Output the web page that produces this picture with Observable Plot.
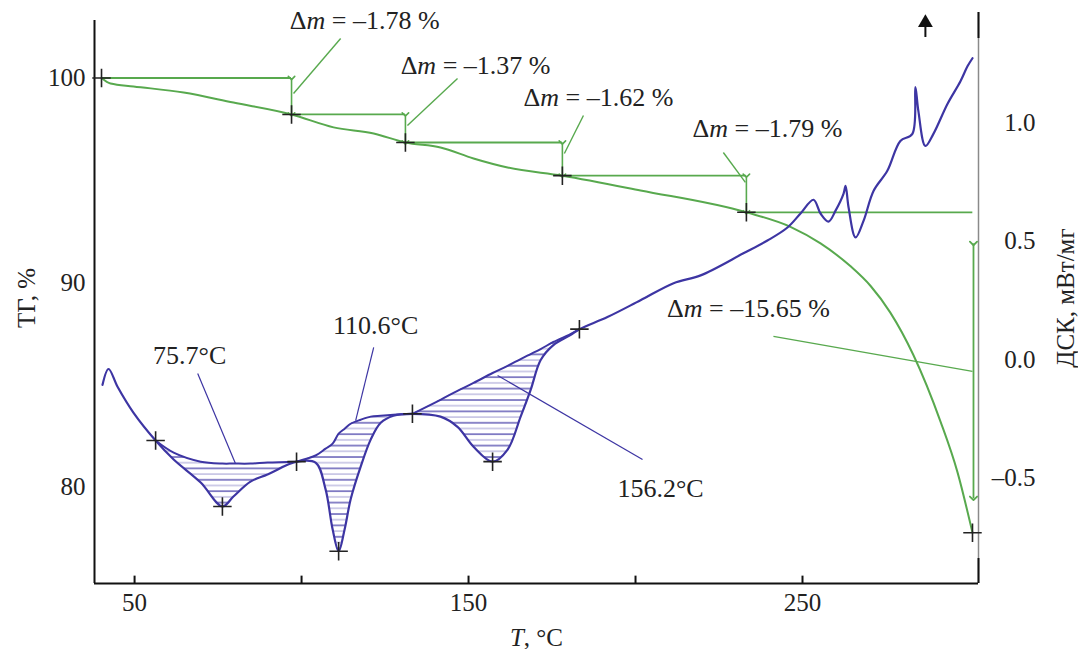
<!DOCTYPE html>
<html><head><meta charset="utf-8">
<script src="https://cdn.jsdelivr.net/npm/d3@7"></script>
<script src="https://cdn.jsdelivr.net/npm/@observablehq/plot@0.6"></script>
<style>
body{margin:0;background:#fff}
svg, svg text{font-family:"Liberation Serif","Times New Roman",serif !important}
</style>
</head><body><div id="chart"></div>
<script>
// ---- TG curve (mass, %) ----
const tgTemp = [40.1,42.8,49.7,64.7,79.6,97.0,109.6,121.6,131.1,141.6,151.5,161.7,178.1,201.5,233.2,246.4,255.4,264.4,270.4,276.3,283.2,291.3,296.4,300.9];
const tgMass = [100.0,99.73,99.59,99.29,98.80,98.22,97.59,97.29,96.85,96.61,96.07,95.63,95.23,94.51,93.44,92.73,91.92,90.80,89.84,88.54,86.47,83.23,80.75,77.79];

// ---- DSC curve (mW/mg) ----
const dscTemp = [40.4,42.2,44.9,49.7,56.3,61.7,69.8,76.3,79.6,84.7,89.8,98.5,104.2,107.2,109.3,111.1,112.9,114.7,117.7,120.7,123.7,127.5,133.2,141.6,146.7,151.5,157.2,161.7,165.6,168.6,171.6,175.4,180.5,183.2,191.6,201.5,211.4,219.5,232.3,239.5,245.5,249.4,253.3,255.4,257.8,259.9,262.3,262.9,263.8,265.9,268.3,271.3,275.4,279.3,282.9,283.8,284.7,286.8,289.2,293.4,297.3,299.4,300.9];
const dscVal = [-0.105,-0.038,-0.113,-0.223,-0.340,-0.420,-0.517,-0.618,-0.576,-0.513,-0.483,-0.429,-0.433,-0.546,-0.714,-0.807,-0.714,-0.588,-0.450,-0.336,-0.265,-0.235,-0.227,-0.239,-0.282,-0.366,-0.429,-0.378,-0.239,-0.126,0.000,0.063,0.105,0.130,0.181,0.252,0.324,0.357,0.450,0.504,0.559,0.618,0.676,0.618,0.584,0.630,0.702,0.735,0.643,0.517,0.588,0.714,0.798,0.924,0.954,1.151,1.050,0.903,0.954,1.080,1.176,1.239,1.273];

// ---- DSC peak baselines ----
const peak1Temp = [56.3,61.7,69.8,76.3,79.6,84.7,89.8,98.5];
const peak1Base = [-0.340,-0.391,-0.429,-0.437,-0.437,-0.437,-0.433,-0.429];
const peak2Temp = [98.5,104.2,107.2,109.3,111.1,112.9,114.7,117.7,120.7,123.7,127.5,133.2];
const peak2Base = [-0.429,-0.403,-0.374,-0.353,-0.311,-0.290,-0.269,-0.252,-0.239,-0.235,-0.231,-0.227];
const peak3Temp = [133.2,141.6,146.7,151.5,157.2,161.7,165.6,168.6,171.6,175.4,180.5,183.2];
const peak3Base = [-0.227,-0.168,-0.130,-0.097,-0.055,-0.025,0.004,0.025,0.046,0.076,0.109,0.130];

// ---- marked points ----
const tgMarkTemp = [40.1,97.0,131.1,178.1,233.2,300.9];
const tgMarkMass = [100.0,98.22,96.85,95.23,93.44,77.79];
const dscMarkTemp = [56.3,76.3,98.5,111.1,133.2,157.2,183.2];

// ---- mass-loss steps ----
const stepStart = [40.1,97.0,131.1,178.1,233.2];
const stepEnd   = [97.0,131.1,178.1,233.2,301.0];
const stepMass  = [100.0,98.22,96.85,95.23,93.44];
const stepArrowMass = [98.22,96.85,95.23,93.44];
const bigArrow = {t: 301.2, m1: 91.92, m2: 79.47};

// ---- labels ----
const dmText = ["Δm = –1.78 %","Δm = –1.37 %","Δm = –1.62 %","Δm = –1.79 %","Δm = –15.65 %"];
const dmTemp = [118.9,152.1,188.9,239.5,233.8];
const dmMass = [102.81,100.61,99.05,97.53,88.74];
const dmLeadT1 = [111.7,146.7,184.4,226.3,241.3];
const dmLeadM1 = [101.93,99.98,98.17,96.36,87.38];
const dmLeadT2 = [97.6,131.7,178.7,232.9,300.9];
const dmLeadM2 = [99.24,97.68,96.31,94.90,85.67];

const pkText = ["75.7°C","110.6°C","156.2°C"];
const pkTemp = [66.5,122.2,207.5];
const pkMass = [86.45,87.91,79.95];
const pkLeadT1 = [68.9,121.6,158.7];
const pkLeadM1 = [85.57,86.84,85.47];
const pkLeadT2 = [80.2,116.2,202.1];
const pkLeadM2 = [81.17,83.27,81.37];

// ---- axes ----
const xTicks = [50,100,150,200,250];
const xLabels = [50,150,250];
const tgTicks = [80,90,100];
const dscTicks = [-0.5,0.0,0.5,1.0];

// ---- scales / layout ----
const xDom = [38.0,302.7];
const tgDom = [75.31,103.2];
const dscDom = [-0.943,1.466];
const toY = d3.scaleLinear(dscDom, tgDom);

const green = "#58a94e", blue = "#3d35a3", ink = "#222";
const serif = '"Liberation Serif","Times New Roman",serif';

const dsc = dscTemp.map((t,i)=>({t, v: dscVal[i]}));
const dscLookup = new Map(dsc.map(d=>[d.t,d.v]));
const tg = tgTemp.map((t,i)=>({t, m: tgMass[i]}));
const region = (T,B) => T.map((t,i)=>({t, peak: dscLookup.get(t), base: B[i]}));
const regions = [region(peak1Temp,peak1Base), region(peak2Temp,peak2Base), region(peak3Temp,peak3Base)];

const steps = stepStart.map((s,i)=>({t0:s, t1:stepEnd[i], m:stepMass[i]}));
const stepArrows = stepArrowMass.map((m,i)=>({t: stepEnd[i], m1: stepMass[i], m2: m}));
const dmLab = dmText.map((s,i)=>({s, t: dmTemp[i], m: dmMass[i]}));
const dmLead = dmLeadT1.map((t,i)=>({t1:t, m1:dmLeadM1[i], t2:dmLeadT2[i], m2:dmLeadM2[i]}));
const pkLab = pkText.map((s,i)=>({s, t: pkTemp[i], m: pkMass[i]}));
const pkLead = pkLeadT1.map((t,i)=>({t1:t, m1:pkLeadM1[i], t2:pkLeadT2[i], m2:pkLeadM2[i]}));
const curve = "catmull-rom";

const marks = [];
for (const r of regions) {
  marks.push(Plot.areaY(r, {x:"t", y1: d=>toY(d.peak), y2: d=>toY(d.base), fill:"url(#hatch)", curve}));
  marks.push(Plot.line(r, {x:"t", y: d=>toY(d.base), stroke: blue, strokeWidth: 2, curve}));
}
marks.push(
  // frame
  Plot.ruleX([xDom[1]], {y1: tgDom[0], y2: tgDom[1], stroke:"#8a8a8a", strokeWidth:1.5}),
  Plot.ruleX([xDom[1]], {y1: tgDom[0], y2: 76.53, stroke:"#111", strokeWidth:2}),
  Plot.ruleX([xDom[1]], {y1: 101.93, y2: tgDom[1], stroke:"#111", strokeWidth:2}),
  Plot.ruleX([xDom[0]], {y1: tgDom[0], y2: 102.81, stroke:"#111", strokeWidth:2}),
  Plot.ruleY([tgDom[0]], {x1: xDom[0], x2: xDom[1], stroke:"#111", strokeWidth:2}),
  Plot.ruleX(xTicks, {y1: tgDom[0], y2: tgDom[0]+0.36, stroke:"#111", strokeWidth:2}),
  // TG steps
  Plot.ruleY(steps, {y:"m", x1:"t0", x2:"t1", stroke: green, strokeWidth:1.8}),
  Plot.link(stepArrows, {x1:"t", x2:"t", y1:"m1", y2:"m2", stroke: green, strokeWidth:1.6, markerStart:"arrow", markerEnd:"arrow"}),
  Plot.link([bigArrow], {x1:"t", x2:"t", y1:"m1", y2:"m2", stroke: green, strokeWidth:1.8, markerStart:"arrow", markerEnd:"arrow"}),
  Plot.link(dmLead, {x1:"t1", y1:"m1", x2:"t2", y2:"m2", stroke: green, strokeWidth:1.4}),
  Plot.line(tg, {x:"t", y:"m", stroke: green, strokeWidth:2, curve:"monotone-x"}),
  // DSC
  Plot.link(pkLead, {x1:"t1", y1:"m1", x2:"t2", y2:"m2", stroke: blue, strokeWidth:1.2}),
  Plot.line(dsc, {x:"t", y: d=>toY(d.v), stroke: blue, strokeWidth:2.2, curve}),
  // marks
  Plot.dot(tgMarkTemp.map((t,i)=>({t, m: tgMarkMass[i]})), {x:"t", y:"m", symbol:"plus", r:6, stroke: ink, strokeWidth:1.6}),
  Plot.dot(dscMarkTemp, {x: d=>d, y: d=>toY(dscLookup.get(d)), symbol:"plus", r:6, stroke: ink, strokeWidth:1.6}),
  // exo direction arrow
  Plot.ruleX([286.8], {y1: 101.98, y2: 102.55, stroke:"#111", strokeWidth:2}),
  Plot.dot([286.8], {x: d=>d, y: 102.7, symbol:"triangle", r:5.5, fill:"#111"}),
  // labels
  Plot.text(dmLab, {x:"t", y:"m", text:"s", fontSize:26, fill: ink, fontFamily: serif}),
  Plot.text(pkLab, {x:"t", y:"m", text:"s", fontSize:26, fill: ink, fontFamily: serif}),
  // axes
  Plot.axisY(tgTicks, {anchor:"left", tickSize:0, tickPadding:9, fontSize:25, color: ink, label:"ТГ, %", labelAnchor:"center", labelArrow:"none", labelOffset:77}),
  Plot.axisY(dscTicks.map(toY), {anchor:"right", tickSize:0, tickPadding:57, textAnchor:"end", fontSize:25, color: ink,
     tickFormat: d => { const v = Math.round(toY.invert(d)*10)/10; return (v<0?"–":"") + Math.abs(v).toFixed(1); },
     label:"ДСК, мВт/мг", labelAnchor:"center", labelArrow:"none", labelOffset:95}),
  Plot.axisX(xLabels, {tickSize:0, tickPadding:10, fontSize:25, color: ink, label:"T, °C", labelAnchor:"center", labelArrow:"none", labelOffset:62})
);

const svg = Plot.plot({
  width: 1078, height: 649,
  marginLeft: 94, marginRight: 100, marginTop: 12, marginBottom: 66,
  x: {domain: xDom},
  y: {domain: tgDom},
  style: {fontFamily: serif, fontSize: "25px", background: "#fff"},
  marks
});

// hatch pattern
const s = d3.select(svg);
const defs = s.insert("defs", ":first-child");
const pat = defs.append("pattern").attr("id","hatch").attr("patternUnits","userSpaceOnUse").attr("width",10).attr("height",11.4);
pat.append("line").attr("x1",0).attr("x2",10).attr("y1",1).attr("y2",1).attr("stroke",blue).attr("stroke-width",1.4).attr("stroke-opacity",0.85);
pat.append("line").attr("x1",0).attr("x2",10).attr("y1",6.7).attr("y2",6.7).attr("stroke",blue).attr("stroke-width",1.4).attr("stroke-opacity",0.35);

// fonts and italic symbols
s.selectAll("g").attr("font-family", serif);
s.selectAll("text").attr("font-family", serif).each(function(){
  const el = d3.select(this);
  if (el.selectAll("tspan").size() > 0) {
    el.selectAll("tspan").each(function(){ italicize(d3.select(this)); });
  } else italicize(el);
});
function italicize(el){
  const t = el.text();
  if (t.startsWith("Δm")) {
    el.text("");
    el.append("tspan").text("Δ");
    el.append("tspan").attr("font-style","italic").text("m");
    el.append("tspan").text(t.slice(2));
  } else if (t.startsWith("T, °C")) {
    el.text("");
    el.append("tspan").attr("font-style","italic").text("T");
    el.append("tspan").text(t.slice(1));
  }
}
document.getElementById("chart").appendChild(svg);
</script>
</body></html>
